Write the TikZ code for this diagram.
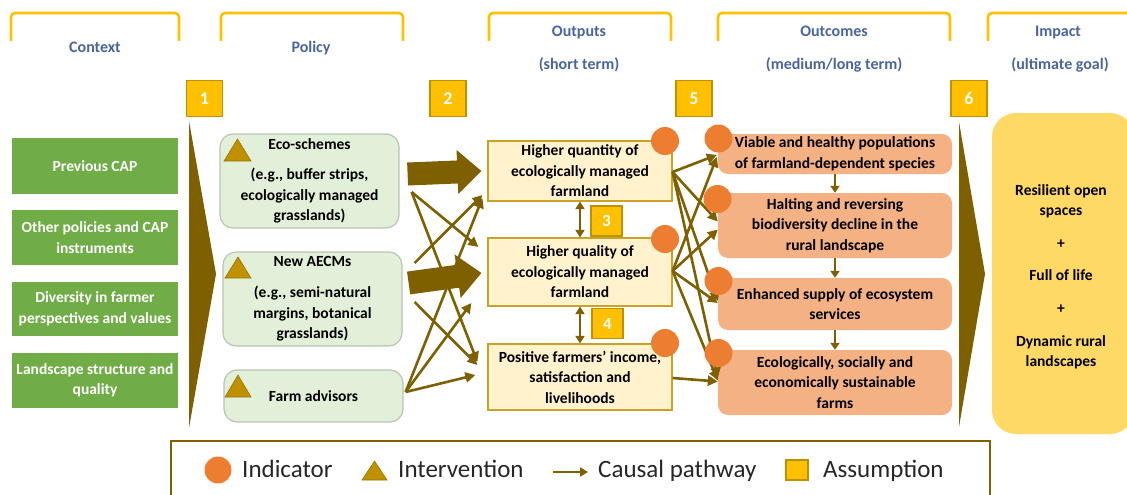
\documentclass[tikz,border=0pt]{standalone}
\usepackage{fontspec}
\setmainfont{Carlito}
\usetikzlibrary{arrows.meta,calc,shapes.geometric}

\definecolor{brownarrow}{HTML}{7F6000}
\definecolor{bracketyellow}{HTML}{FFC000}
\definecolor{numfill}{HTML}{FFC000}
\definecolor{numdraw}{HTML}{BF9000}
\definecolor{ctxgreen}{HTML}{70AD47}
\definecolor{polfill}{HTML}{E2F0D9}
\definecolor{polline}{HTML}{B9C4B3}
\definecolor{trifill}{HTML}{BF9000}
\definecolor{tridraw}{HTML}{9A7400}
\definecolor{outfill}{HTML}{FFF2CC}
\definecolor{outdraw}{HTML}{C9A227}
\definecolor{outcfill}{HTML}{F4B183}
\definecolor{indic}{HTML}{ED7D31}
\definecolor{impfill}{HTML}{FFD966}
\definecolor{headblue}{HTML}{4A64A0}
\definecolor{legendtext}{HTML}{262626}

\tikzset{
  boxfont/.style={font=\fontsize{15.5}{20.5}\selectfont\bfseries},
  header/.style={font=\fontsize{16}{18}\selectfont\bfseries, text=headblue, anchor=base, inner sep=0pt},
  bracket/.style={draw=bracketyellow, line width=2.6pt, rounded corners=4pt},
  ctx/.style={boxfont, fill=ctxgreen, text=white, minimum width=166pt, inner sep=0pt, align=center},
  pol/.style={boxfont, fill=polfill, draw=polline, line width=1.2pt, rounded corners=13pt,
              minimum width=179pt, inner sep=0pt, align=center, text=black},
  outp/.style={boxfont, fill=outfill, draw=outdraw, line width=1.2pt, minimum width=184pt,
               inner sep=0pt, align=center},
  outc/.style={boxfont, fill=outcfill, rounded corners=10pt, minimum width=234pt,
               inner sep=0pt, align=center},
  imp/.style={fill=impfill, rounded corners=24pt, minimum width=142pt,
              minimum height=321pt, inner sep=0pt},
  imptext/.style={boxfont, inner sep=0pt, align=center},
  numbox/.style={fill=numfill, draw=numdraw, line width=1.5pt, minimum width=36pt,
                 minimum height=36pt, inner sep=0pt, text=white,
                 font=\fontsize{18}{20}\selectfont\bfseries},
  smallnum/.style={numbox, minimum width=31pt, minimum height=30pt,
                   font=\fontsize{17}{20}\selectfont\bfseries},
  ind/.style={circle, fill=indic, minimum size=28pt, inner sep=0pt},
  tri/.style={fill=trifill, draw=tridraw, line width=0.6pt, line join=miter},
  chevron/.style={fill=brownarrow},
  causal/.style={draw=brownarrow, line width=2.6pt, -{Triangle[length=10pt,width=10pt]}},
  dbl/.style={draw=brownarrow, line width=2.5pt,
              {Triangle[length=7.5pt,width=9pt]}-{Triangle[length=7.5pt,width=9pt]}},
  downarrow/.style={draw=brownarrow, line width=2.6pt, -{Triangle[length=7pt,width=9pt]}},
  legendframe/.style={draw=brownarrow, line width=2.6pt},
  legtext/.style={font=\fontsize{25}{28}\selectfont, text=legendtext, anchor=base west, inner sep=0pt}
}

% thick block arrow from #1 to #2 (shaft half width 11pt, head half width 21pt)
\newcommand\blockarrow[2]{%
  \coordinate (ba-h) at ($(#2)!24pt!(#1)$);
  \fill[brownarrow]
    ($(#1)!11.5pt!90:(#2)$) -- ($(ba-h)!11.5pt!90:(#2)$) -- ($(ba-h)!22pt!90:(#2)$) --
    (#2) --
    ($(ba-h)!22pt!-90:(#2)$) -- ($(ba-h)!11.5pt!-90:(#2)$) -- ($(#1)!11.5pt!-90:(#2)$) -- cycle;
}

\begin{document}
\begin{tikzpicture}[x=1pt, y=-1pt]
\useasboundingbox (0,0) rectangle (1127,495);
\clip (0,0) rectangle (1127,495);

% ---- column headers ----
\draw[bracket] (11,41) |- (179,13) -- (179,41);
\draw[bracket] (221,41) |- (403,13) -- (403,41);
\draw[bracket] (489,41) |- (671,13) -- (671,41);
\draw[bracket] (718,41) |- (950,13) -- (950,41);
\draw[bracket] (988,41) |- (1142,13) -- (1142,41);

\node[header] (hctx) at (95,53) {Context};
\node[header] (hpol) at (311,53) {Policy};
\node[header] (hout) at (579,37) {Outputs};
\node[header] (hout2) at (579,70) {(short term)};
\node[header] (hoc) at (834,37) {Outcomes};
\node[header] (hoc2) at (834,70) {(medium/long term)};
\node[header] (him) at (1058,37) {Impact};
\node[header] (him2) at (1060,70) {(ultimate goal)};

% ---- assumption markers ----
\node[numbox] (n1) at (204.5,98.5) {1};
\node[numbox] (n2) at (448,98.5) {2};
\node[numbox] (n5) at (694,98.5) {5};
\node[numbox] (n6) at (969,98.5) {6};

% ---- context ----
\node[ctx, minimum height=56pt] (prev) at (95,166) {Previous CAP};
\node[ctx, minimum height=55pt] (other) at (95,237.5) {Other policies and CAP\\instruments};
\node[ctx, minimum height=54pt] (div) at (95,309) {Diversity in farmer\\perspectives and values};
\node[ctx, minimum height=55pt] (land) at (95,380.5) {Landscape structure and\\quality};

\fill[chevron] (189,121) -- (216,274) -- (189,428) -- cycle;

% ---- policy ----
\node[pol, minimum height=94pt] (eco) at (309.5,181)
  {Eco-schemes\\[9.5pt](e.g., buffer strips,\\ecologically managed\\grasslands)};
\node[pol, minimum height=94pt] (aecm) at (312.5,299)
  {New AECMs\\[10.5pt](e.g., semi-natural\\margins, botanical\\grasslands)};
\node[pol, minimum height=52pt] (farm) at (313.5,396) {Farm advisors};

\draw[tri] (224,161) -- (237.5,139) -- (251,161) -- cycle;
\draw[tri] (225,278) -- (238,257) -- (251,278) -- cycle;
\draw[tri] (225,397) -- (238,375) -- (251,397) -- cycle;

% ---- outputs ----
\node[outp, minimum height=60pt] (q1) at (580,171) {Higher quantity of\\ecologically managed\\farmland};
\node[outp, minimum height=68pt] (q2) at (580,272) {Higher quality of\\ecologically managed\\farmland};
\node[outp, minimum height=66pt] (q3) at (580,377) {Positive farmers’ income,\\satisfaction and\\livelihoods};

\draw[dbl] (q1.south) -- (q2.north);
\draw[dbl] (q2.south) -- (q3.north);
\node[smallnum] (n3) at (606.5,221) {3};
\node[smallnum] (n4) at (607.5,323.5) {4};

% ---- outcomes ----
\node[outc, minimum height=40pt] (o1) at (835,154) {Viable and healthy populations\\of farmland-dependent species};
\node[outc, minimum height=65pt] (o2) at (835,225.5) {Halting and reversing\\biodiversity decline in the\\rural landscape};
\node[outc, minimum height=52pt] (o3) at (835,304) {Enhanced supply of ecosystem\\services};
\node[outc, minimum height=65pt] (o4) at (835,382.5) {Ecologically, socially and\\economically sustainable\\farms};

\draw[downarrow] (o1.south) -- (o2.north);
\draw[downarrow] (o2.south) -- (o3.north);
\draw[downarrow] (o3.south) -- (o4.north);

\fill[chevron] (959,122) -- (985,274) -- (959,427) -- cycle;

% ---- impact ----
\node[imp] (impact) at (1063,273.5) {};
\node[imptext] (impt) at (1061,277)
  {Resilient open\\spaces\\[12pt]+\\[12pt]Full of life\\[12.5pt]+\\[12pt]Dynamic rural\\landscapes};

% ---- policy -> outputs ----
\coordinate (b1s) at ($(eco.east)+(8,-7)$);
\coordinate (b1t) at ($(q1.west)+(-6,0)$);
\blockarrow{b1s}{b1t}
\coordinate (b2s) at ($(aecm.east)+(6,-16)$);
\coordinate (b2t) at ($(q2.west)+(-6,1)$);
\blockarrow{b2s}{b2t}

\draw[causal] ($(eco.east)+(12,11)$) -- ($(q2.west)+(-9,-25)$);
\draw[causal] ($(eco.east)+(12,11)$) -- ($(q3.west)+(-10,-15)$);
\draw[causal] ($(aecm.east)+(12,-36)$) -- ($(q1.west)+(-5,24)$);
\draw[causal] ($(aecm.east)+(12,3)$) -- ($(q3.west)+(-10,-12)$);
\draw[causal] ($(farm.east)+(2,-4)$) -- ($(q1.west)+(-5,27)$);
\draw[causal] ($(farm.east)+(2,-4)$) -- ($(q2.west)+(-16,31)$);
\draw[causal] ($(farm.east)+(2,-4)$) -- ($(q3.west)+(-12,-2)$);

% ---- outputs -> outcomes ----
\draw[causal] ($(q1.east)+(0,1)$) -- ($(o1.west)+(-1,1)$);
\draw[causal] ($(q1.east)+(0,1)$) -- ($(o2.west)+(0,-4)$);
\draw[causal] ($(q1.east)+(0,1)$) -- ($(o3.west)+(0,-3)$);
\draw[causal] ($(q1.east)+(0,1)$) -- ($(o4.west)+(0,-5)$);
\draw[causal] ($(q2.east)+(0,-1)$) -- ($(o1.west)+(-1,3)$);
\draw[causal] ($(q2.east)+(0,-1)$) -- ($(o2.west)+(0,4)$);
\draw[causal] ($(q2.east)+(0,-1)$) -- ($(o3.west)+(0,-1)$);
\draw[causal] ($(q2.east)+(0,-1)$) -- ($(o4.west)+(0,-2)$);
\draw[causal] ($(q3.east)+(0,1)$) -- ($(o4.west)+(0,-1)$);

% ---- indicators ----
\node[ind] (iq1) at (665,141) {};
\node[ind] (iq2) at (665,239) {};
\node[ind] (iq3) at (665,343) {};
\node[ind] (io1) at (718.5,138.5) {};
\node[ind] (io2) at (717.5,199) {};
\node[ind] (io3) at (718.5,281) {};
\node[ind] (io4) at (718.5,353) {};

% ---- legend ----
\draw[legendframe] (171,441) rectangle (990,505);
\node[ind, minimum size=27pt] (lgind) at (218,470) {};
\node[legtext] (lgindt) at (242,477) {Indicator};
\draw[tri] (362,480) -- (374.5,461) -- (387,480) -- cycle;
\node[legtext] (lgtrit) at (398,477) {Intervention};
\coordinate (lga) at (553,472);
\coordinate (lgb) at (588,472);
\draw[causal, -{Triangle[length=8pt,width=9pt]}] (lga) -- (lgb);
\node[legtext] (lgarrt) at (598,477) {Causal pathway};
\node[fill=numfill, draw=numdraw, line width=1.3pt, minimum width=22pt, minimum height=20pt, inner sep=0pt] (lgsq) at (797,470) {};
\node[legtext] (lgsqt) at (823,477) {Assumption};
\end{tikzpicture}
\end{document}
